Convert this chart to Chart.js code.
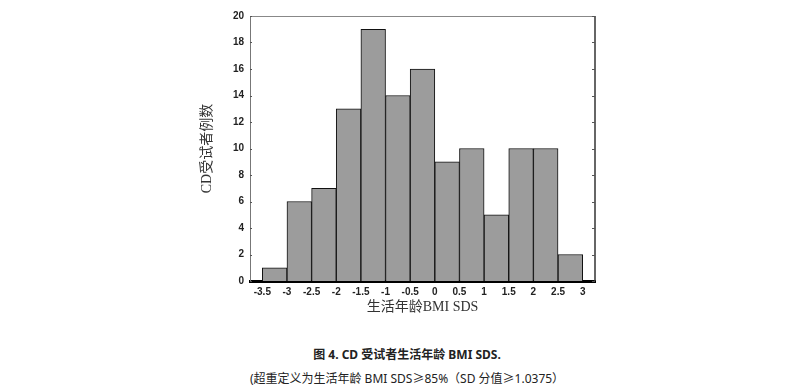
<!DOCTYPE html>
<html lang="zh">
<head>
<meta charset="UTF-8">
<title>图 4. CD 受试者生活年龄 BMI SDS</title>
<script src="https://cdn.jsdelivr.net/npm/chart.js"></script>
<style>
  body { margin: 0; background: #fff; }
  .wrap { position: absolute; left: 0; top: 0; width: 791px; height: 320px; }
  .cap { position: absolute; left: 0; width: 814px; text-align: center;
         font-family: "Noto Sans", "Noto Sans CJK SC", sans-serif; font-size: 12px; color: #222; }
  .cap1 { top: 345px; font-weight: bold; }
  .cap2 { top: 369px; }
</style>
</head>
<body>
<div class="wrap"><canvas id="chart" width="791" height="320"></canvas></div>
<div class="cap cap1">图 4. CD 受试者生活年龄 BMI SDS.</div>
<div class="cap cap2">(超重定义为生活年龄 BMI SDS≥85%（SD 分值≥1.0375）</div>
<script>
// bin centres (bin width 0.5) and counts
const binCenters = [-3.25, -2.75, -2.25, -1.75, -1.25, -0.75, -0.25, 0.25, 0.75, 1.25, 1.75, 2.25, 2.75];
const counts = [1, 6, 7, 13, 19, 14, 16, 9, 10, 5, 10, 10, 2];
const xTicks = [-3.5, -3, -2.5, -2, -1.5, -1, -0.5, 0, 0.5, 1, 1.5, 2, 2.5, 3];
const xTickLabels = ['-3.5', '-3', '-2.5', '-2', '-1.5', '-1', '-0.5', '0', '0.5', '1', '1.5', '2', '2.5', '3'];
const yTicks = [0, 2, 4, 6, 8, 10, 12, 14, 16, 18, 20];

const tickFont = { family: 'Liberation Sans, Arial, sans-serif', size: 10, weight: 'bold' };
const titleFont = { family: 'Liberation Serif, "Noto Sans CJK SC", serif', size: 14 };

// frame on top/right plus small inward tick marks
const frame = {
  id: 'frame',
  afterDraw(chart) {
    const { ctx, chartArea: a, scales: { y } } = chart;
    ctx.save();
    ctx.strokeStyle = '#888';
    ctx.lineWidth = 1;
    ctx.beginPath();
    ctx.moveTo(a.left, a.top + 0.5);
    ctx.lineTo(a.right, a.top + 0.5);
    ctx.stroke();
    ctx.strokeStyle = '#333';
    ctx.lineWidth = 1.5;
    ctx.beginPath();
    ctx.moveTo(a.right, a.top);
    ctx.lineTo(a.right, a.bottom);
    ctx.stroke();
    ctx.lineWidth = 1;
    ctx.strokeStyle = '#555';
    yTicks.forEach(v => {
      const py = Math.round(y.getPixelForValue(v)) + 0.5;
      ctx.beginPath();
      ctx.moveTo(a.left, py); ctx.lineTo(a.left + 2, py);
      ctx.moveTo(a.right, py); ctx.lineTo(a.right - 3, py);
      ctx.stroke();
    });
    ctx.restore();
  }
};

new Chart(document.getElementById('chart'), {
  type: 'bar',
  data: {
    datasets: [{
      data: binCenters.map((c, i) => ({ x: c, y: counts[i] })),
      backgroundColor: '#9c9c9c',
      borderColor: '#111',
      borderWidth: 1,
      barPercentage: 1,
      categoryPercentage: 1
    }]
  },
  options: {
    responsive: false,
    animation: false,
    layout: { padding: { left: 195, right: 196, top: 16, bottom: 0 } },
    plugins: { legend: { display: false }, tooltip: { enabled: false } },
    scales: {
      x: {
        type: 'linear',
        offset: false,
        min: -3.75,
        max: 3.25,
        grid: { display: false, drawTicks: false },
        border: { color: '#000', width: 3 },
        afterBuildTicks: s => { s.ticks = xTicks.map(v => ({ value: v })); },
        afterFit: s => { s.height = 39; },
        ticks: {
          font: tickFont, color: '#222', padding: 5, maxRotation: 0, autoSkip: false,
          callback: (v) => xTickLabels[xTicks.indexOf(v)]
        },
        title: { display: true, text: '生活年龄BMI SDS', font: titleFont, color: '#333',
                 padding: { top: 0, bottom: 4.6 } }
      },
      y: {
        min: 0,
        max: 20,
        grid: { display: false, drawTicks: false },
        border: { color: '#777', width: 1 },
        afterBuildTicks: s => { s.ticks = yTicks.map(v => ({ value: v })); },
        afterFit: s => { s.width = 55; },
        ticks: { font: tickFont, color: '#222', padding: 6 },
        title: { display: true, text: 'CD受试者例数', font: titleFont, color: '#333',
                 padding: { top: 3.6, bottom: 0 } }
      }
    }
  },
  plugins: [frame]
});
</script>
</body>
</html>
